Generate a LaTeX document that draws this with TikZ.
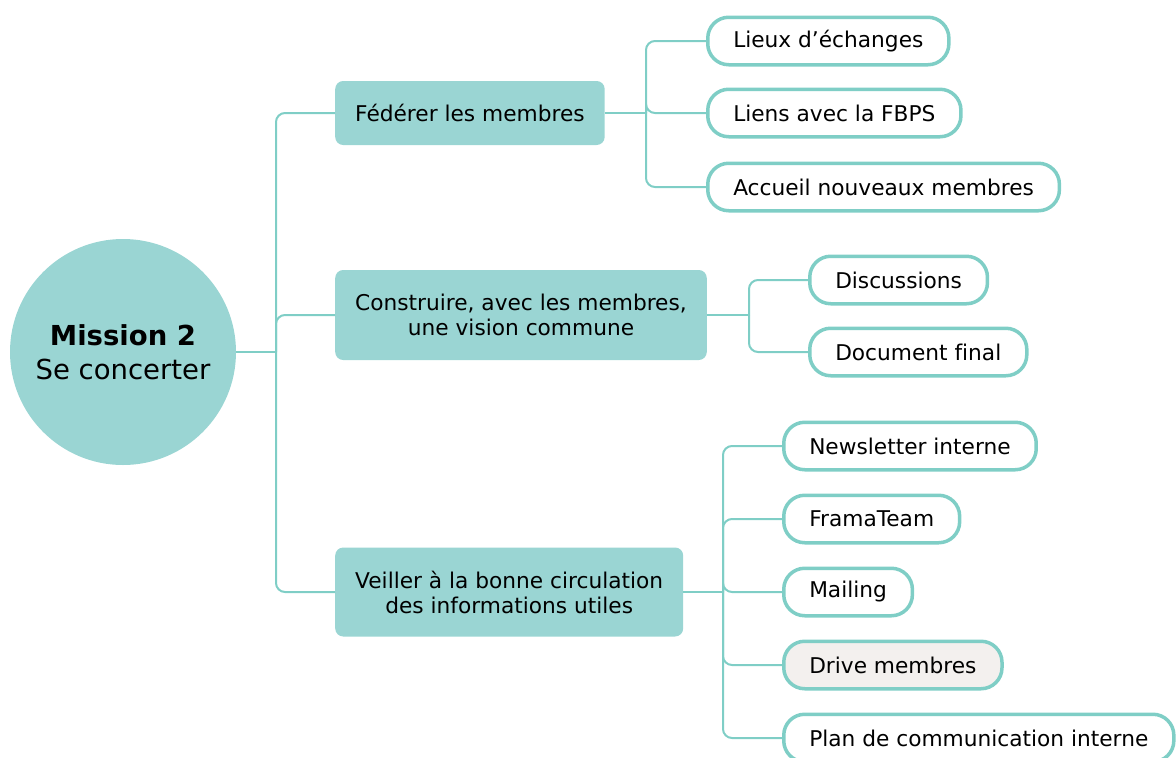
\documentclass[tikz,border=0pt]{standalone}
\usepackage{fontspec}
\setmainfont{DejaVu Sans}[Ligatures=NoCommon]
\usepackage{xcolor}
\usepackage{tikz}

\definecolor{tealfill}{HTML}{9AD5D3}
\definecolor{tealline}{HTML}{7FCEC6}
\definecolor{greyfill}{HTML}{F3F0EE}

\begin{document}
\begin{tikzpicture}[x=1pt, y=1pt,
    mission/.style={circle, fill=tealfill, minimum size=226pt, inner sep=0pt, align=center,
      font=\fontsize{27.5}{34}\selectfont},
    branch/.style={rectangle, rounded corners=8pt, fill=tealfill, anchor=west, inner xsep=20pt,
      align=center, font=\fontsize{21.7}{25}\selectfont},
    leaf/.style={rectangle, rounded corners=21pt, draw=tealline, line width=3.5pt, fill=white,
      anchor=west, inner xsep=25.5pt, minimum height=47.5pt, font=\fontsize{21.7}{25}\selectfont},
    link/.style={draw=tealline, line width=2pt, rounded corners=9pt}
    ]
    \useasboundingbox (0,0) rectangle (1176,-758);

    \node[mission] (mission) at (123,-352) {\textbf{Mission 2}\\Se concerter};

    \node[branch, minimum height=64pt] (federer) at (335,-113) {Fédérer les membres};
    \node[branch, minimum height=90pt] (construire) at (335,-315) {Construire, avec les membres,\\une vision commune};
    \node[branch, minimum height=89pt] (veiller) at (335,-592) {Veiller à la bonne circulation\\des informations utiles};

    \node[leaf] (lieux) at (706,-41) {Lieux d’échanges};
    \node[leaf] (liens) at (706,-113) {Liens avec la FBPS};
    \node[leaf] (accueil) at (706,-187) {Accueil nouveaux membres};

    \node[leaf] (discussions) at (808,-280) {Discussions};
    \node[leaf] (document) at (808,-352) {Document final};

    \node[leaf] (newsletter) at (782,-446) {Newsletter interne};
    \node[leaf] (framateam) at (782,-519) {FramaTeam};
    \node[leaf] (mailing) at (782,-592) {Mailing};
    \node[leaf, fill=greyfill] (drive) at (782,-665) {Drive membres};
    \node[leaf] (plan) at (782,-738) {Plan de communication interne};

    \coordinate (hub) at (276,-352);
    \coordinate (fork1) at (646,-113);
    \coordinate (fork2) at (749,-315);
    \coordinate (fork3) at (723,-592);

    \draw[link] (mission.east) -- (hub);
    \foreach \b in {federer,construire,veiller}
      \draw[link] (hub) |- (\b.west);

    \draw[link] (federer.east) -- (fork1);
    \foreach \l in {lieux,liens,accueil}
      \draw[link] (fork1) |- (\l.west);

    \draw[link] (construire.east) -- (fork2);
    \foreach \l in {discussions,document}
      \draw[link] (fork2) |- (\l.west);

    \draw[link] (veiller.east) -- (fork3);
    \foreach \l in {newsletter,framateam,mailing,drive,plan}
      \draw[link] (fork3) |- (\l.west);
  \end{tikzpicture}
\end{document}
